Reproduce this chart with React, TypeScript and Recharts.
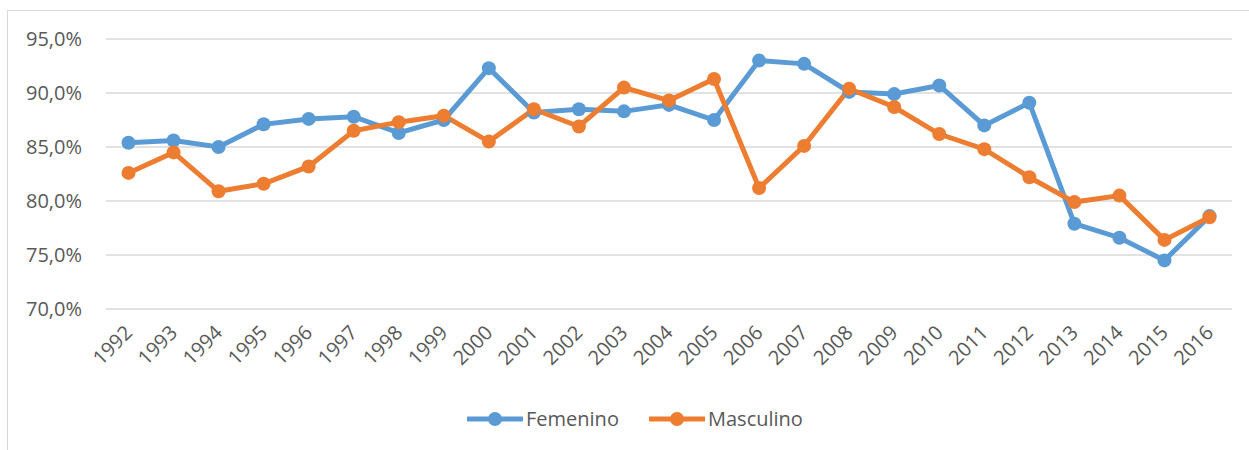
import React from "react";
import { LineChart, Line, XAxis, YAxis, CartesianGrid, Legend } from "recharts";

const years = [
  "1992", "1993", "1994", "1995", "1996", "1997", "1998", "1999", "2000", "2001",
  "2002", "2003", "2004", "2005", "2006", "2007", "2008", "2009", "2010", "2011",
  "2012", "2013", "2014", "2015", "2016",
];

const femenino = [
  85.4, 85.6, 85.0, 87.1, 87.6, 87.8, 86.3, 87.5, 92.3, 88.2,
  88.5, 88.3, 88.9, 87.5, 93.0, 92.7, 90.1, 89.9, 90.7, 87.0,
  89.1, 77.9, 76.6, 74.5, 78.6,
];

const masculino = [
  82.6, 84.5, 80.9, 81.6, 83.2, 86.5, 87.3, 87.9, 85.5, 88.5,
  86.9, 90.5, 89.3, 91.3, 81.2, 85.1, 90.4, 88.7, 86.2, 84.8,
  82.2, 79.9, 80.5, 76.4, 78.5,
];

const yTicks = [70, 75, 80, 85, 90, 95];

const seriesNames = ["Femenino", "Masculino"];
const BLUE = "#5b9bd5";
const ORANGE = "#ed7d31";
const TEXT = "#595959";
const GRID = "#d9d9d9";
const FONT = "'Open Sans', sans-serif";

const data = years.map((y, i) => ({
  year: y,
  Femenino: femenino[i],
  Masculino: masculino[i],
}));

const fmtPct = (v: number) => v.toFixed(1).replace(".", ",") + "%";

const XTick = (props: any) => {
  const { x, y, payload } = props;
  const ax = x + 5;
  const ay = y + 25;
  return (
    <text
      x={ax}
      y={ay}
      transform={`rotate(-45, ${ax}, ${ay})`}
      textAnchor="end"
      fill={TEXT}
      fontSize={20}
      fontFamily={FONT}
    >
      {payload.value}
    </text>
  );
};

const LegendContent = () => {
  const items = [
    { name: seriesNames[0], color: BLUE, left: 467 },
    { name: seriesNames[1], color: ORANGE, left: 649 },
  ];
  return (
    <div style={{ position: "relative", width: 1232, height: 60 }}>
      {items.map((it) => (
        <div
          key={it.name}
          style={{
            position: "absolute",
            left: it.left,
            top: 17,
            height: 24,
            display: "flex",
            alignItems: "center",
          }}
        >
          <svg width={56} height={24} style={{ display: "block" }}>
            <line x1={1} y1={12} x2={55} y2={12} stroke={it.color} strokeWidth={5} strokeLinecap="round" />
            <circle cx={28} cy={12} r={7} fill={it.color} />
          </svg>
          <span
            style={{
              marginLeft: 3,
              fontFamily: FONT,
              fontSize: 20,
              color: TEXT,
              lineHeight: "24px",
            }}
          >
            {it.name}
          </span>
        </div>
      ))}
    </div>
  );
};

export default function App() {
  return (
    <div style={{ position: "relative", width: 1249, height: 450, background: "#fff", overflow: "hidden" }}>
      <style>{`body{margin:0}`}</style>
      <div
        style={{
          position: "absolute",
          left: 7,
          top: 10,
          right: 0,
          bottom: 0,
          borderTop: `1.5px solid ${GRID}`,
          borderLeft: `1.5px solid ${GRID}`,
        }}
      />
      <div style={{ position: "absolute", left: 0, top: 0 }}>
        <LineChart
          width={1249}
          height={450}
          data={data}
          margin={{ top: 39, right: 17, left: 0, bottom: 0 }}
        >
          <CartesianGrid vertical={false} stroke={GRID} strokeWidth={1.5} />
          <XAxis
            dataKey="year"
            axisLine={false}
            tickLine={false}
            tickSize={0}
            tickMargin={0}
            interval={0}
            height={81}
            padding={{ left: 22.5, right: 22.5 }}
            tick={<XTick />}
          />
          <YAxis
            domain={[70, 95]}
            ticks={yTicks}
            width={106}
            axisLine={false}
            tickLine={false}
            tickMargin={18}
            tickFormatter={fmtPct}
            tick={{ fill: TEXT, fontSize: 20, fontFamily: FONT }}
            allowDataOverflow
          />
          <Legend verticalAlign="bottom" height={60} content={<LegendContent />} />
          <Line
            dataKey="Femenino"
            stroke={BLUE}
            strokeWidth={5}
            dot={{ r: 7, fill: BLUE, stroke: "none" }}
            activeDot={false}
            isAnimationActive={false}
          />
          <Line
            dataKey="Masculino"
            stroke={ORANGE}
            strokeWidth={5}
            dot={{ r: 7, fill: ORANGE, stroke: "none" }}
            activeDot={false}
            isAnimationActive={false}
          />
        </LineChart>
      </div>
    </div>
  );
}
